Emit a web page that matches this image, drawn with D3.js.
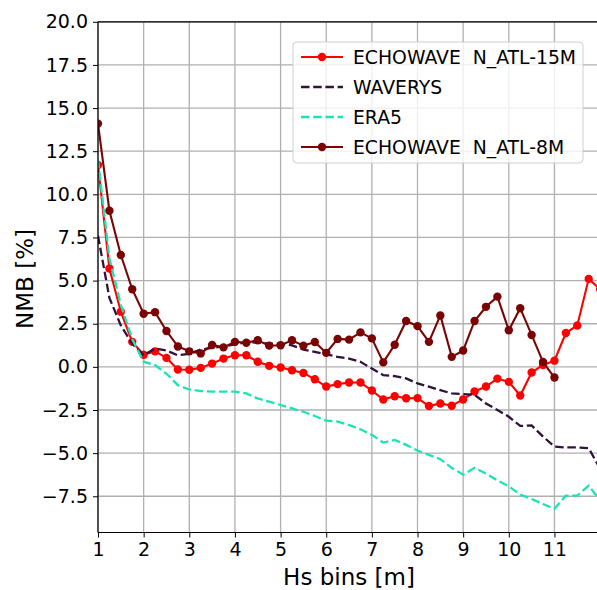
<!DOCTYPE html>
<html>
<head>
<meta charset="utf-8">
<script src="https://cdn.jsdelivr.net/npm/d3@7"></script>
<style>
  body { margin: 0; background: #fff; }
  text { font-family: "DejaVu Sans", sans-serif; fill: #000; }
</style>
</head>
<body>
<div id="chart"></div>
<script>
// Hs bins [m]
const bins = [1, 1.25, 1.5, 1.75, 2, 2.25, 2.5, 2.75, 3, 3.25, 3.5, 3.75, 4, 4.25, 4.5, 4.75,
  5, 5.25, 5.5, 5.75, 6, 6.25, 6.5, 6.75, 7, 7.25, 7.5, 7.75, 8, 8.25, 8.5, 8.75,
  9, 9.25, 9.5, 9.75, 10, 10.25, 10.5, 10.75, 11, 11.25, 11.5, 11.75, 12];

const echo15 = [11.7, 5.7, 3.2, 1.45, 0.7, 0.9, 0.52, -0.15, -0.17, -0.06, 0.19, 0.48, 0.67, 0.67, 0.3, 0.06,
  -0.04, -0.2, -0.35, -0.72, -1.14, -1.0, -0.91, -0.91, -1.37, -1.89, -1.7, -1.82, -1.81, -2.27, -2.12, -2.25,
  -1.89, -1.43, -1.14, -0.68, -0.87, -1.66, -0.33, 0.11, 0.36, 1.96, 2.4, 5.1, 4.5];

const waverys = [7.6, 4.0, 2.4, 1.35, 0.67, 1.06, 0.95, 0.67, 0.75, 1.0, 1.1, 1.19, 1.3, 1.44, 1.4, 1.35,
  1.33, 1.25, 1.0, 0.87, 0.73, 0.58, 0.48, 0.29, -0.1, -0.48, -0.54, -0.67, -0.96, -1.15, -1.35, -1.54,
  -1.58, -1.62, -2.12, -2.5, -2.89, -3.42, -3.4, -4.04, -4.62, -4.67, -4.67, -4.71, -5.9];

const era5 = [12.0, 6.3, 3.6, 1.6, 0.3, 0.1, -0.4, -1.06, -1.31, -1.4, -1.44, -1.44, -1.44, -1.54, -1.83, -2.02,
  -2.21, -2.4, -2.6, -2.85, -3.12, -3.17, -3.37, -3.62, -3.94, -4.39, -4.23, -4.52, -4.85, -5.1, -5.35, -5.85,
  -6.25, -5.85, -6.19, -6.58, -6.92, -7.4, -7.66, -7.95, -8.23, -7.46, -7.46, -6.88, -7.75];

// stops at 11 m
const echo8 = [14.1, 9.05, 6.48, 4.5, 3.08, 3.17, 2.08, 1.18, 0.9, 0.78, 1.27, 1.13, 1.45, 1.4, 1.54, 1.23,
  1.25, 1.54, 1.23, 1.44, 0.81, 1.62, 1.58, 2.0, 1.65, 0.26, 1.28, 2.66, 2.36, 1.45, 2.98, 0.58,
  0.95, 2.66, 3.48, 4.07, 2.12, 3.4, 1.85, 0.28, -0.62];

const xTicks = [1, 2, 3, 4, 5, 6, 7, 8, 9, 10, 11];
const yTicks = [-7.5, -5, -2.5, 0, 2.5, 5, 7.5, 10, 12.5, 15, 17.5, 20];

const series = [
  {name: "ECHOWAVE  N_ATL-15M", values: echo15, color: "#ff0000", dash: null, marker: true},
  {name: "WAVERYS", values: waverys, color: "#30123b", dash: "8.5,3.7", marker: false},
  {name: "ERA5", values: era5, color: "#1ae4b6", dash: "8.5,3.7", marker: false},
  {name: "ECHOWAVE  N_ATL-8M", values: echo8, color: "#7a0403", dash: null, marker: true}
];

const W = 597, H = 590;
const mLeft = 98, mTop = 21.8, mBottom = 532.5, mRight = 600.1;

const svg = d3.select("#chart").append("svg")
    .attr("width", W)
    .attr("height", H);

const x = d3.scaleLinear().domain([1, 12]).range([mLeft, mRight]);
const y = d3.scaleLinear().domain([-9.6, 20]).range([mBottom, mTop]);

svg.append("clipPath").attr("id", "clip")
  .append("rect")
    .attr("x", mLeft).attr("y", mTop)
    .attr("width", mRight - mLeft).attr("height", mBottom - mTop);

// grid
const grid = svg.append("g");
grid.selectAll(".vg").data(xTicks).enter().append("line")
    .attr("x1", d => x(d)).attr("x2", d => x(d))
    .attr("y1", mTop).attr("y2", mBottom)
    .attr("stroke", "#b0b0b0").attr("stroke-width", 1.3);
grid.selectAll(".hg").data(yTicks).enter().append("line")
    .attr("x1", mLeft).attr("x2", W)
    .attr("y1", d => y(d)).attr("y2", d => y(d))
    .attr("stroke", "#b0b0b0").attr("stroke-width", 1.3);

// lines
const plot = svg.append("g").attr("clip-path", "url(#clip)");
series.forEach(s => {
  const pts = s.values.map((v, i) => [bins[i], v]);
  const line = d3.line().x(d => x(d[0])).y(d => y(d[1]));
  plot.append("path")
      .datum(pts)
      .attr("fill", "none")
      .attr("stroke", s.color)
      .attr("stroke-width", s.dash ? 2.3 : 2.1)
      .attr("stroke-dasharray", s.dash)
      .attr("d", line);
  if (s.marker) {
    plot.append("g").selectAll("circle")
      .data(pts).enter().append("circle")
        .attr("cx", d => x(d[0]))
        .attr("cy", d => y(d[1]))
        .attr("r", 4.2)
        .attr("fill", s.color);
  }
});

// axes
const xAxis = svg.append("g")
    .attr("transform", `translate(0,${mBottom})`)
    .call(d3.axisBottom(x).tickValues(xTicks).tickFormat(d3.format("d")).tickSize(5).tickPadding(5));
const yAxis = svg.append("g")
    .attr("transform", `translate(${mLeft},0)`)
    .call(d3.axisLeft(y).tickValues(yTicks).tickFormat(d => d3.format(".1f")(d).replace("-", "\u2212")).tickSize(5).tickPadding(5));
[xAxis, yAxis].forEach(a => {
  a.select(".domain").remove();
  a.selectAll("line").attr("stroke", "#000").attr("stroke-width", 1);
  a.selectAll("text").style("font-size", "19px").attr("fill", "#000");
});

// spines
svg.append("line").attr("x1", mLeft).attr("x2", mLeft).attr("y1", mTop).attr("y2", mBottom)
  .attr("stroke", "#000").attr("stroke-width", 1.2);
svg.append("line").attr("x1", mLeft).attr("x2", W).attr("y1", mBottom).attr("y2", mBottom)
  .attr("stroke", "#000").attr("stroke-width", 1.2);
svg.append("line").attr("x1", mLeft).attr("x2", W).attr("y1", mTop).attr("y2", mTop)
  .attr("stroke", "#000").attr("stroke-width", 1.2);

// axis labels
svg.append("text")
    .attr("x", 349)
    .attr("y", 585)
    .attr("text-anchor", "middle")
    .style("font-size", "23px")
    .text("Hs bins [m]");
svg.append("text")
    .attr("transform", "translate(33,279) rotate(-90)")
    .attr("text-anchor", "middle")
    .style("font-size", "23px")
    .text("NMB [%]");

// legend
const lg = svg.append("g");
lg.append("rect")
    .attr("x", 293).attr("y", 42)
    .attr("width", 290).attr("height", 121)
    .attr("rx", 4)
    .attr("fill", "#fff").attr("fill-opacity", 0.8)
    .attr("stroke", "#d0d0d0").attr("stroke-width", 1);
series.forEach((s, i) => {
  const ly = 57 + i * 30;
  lg.append("line")
      .attr("x1", 301).attr("x2", 343)
      .attr("y1", ly).attr("y2", ly)
      .attr("stroke", s.color).attr("stroke-width", s.dash ? 2.3 : 2.1)
      .attr("stroke-dasharray", s.dash);
  if (s.marker) {
    lg.append("circle").attr("cx", 322).attr("cy", ly).attr("r", 4.2).attr("fill", s.color);
  }
  lg.append("text")
      .attr("x", 353).attr("y", ly)
      .attr("dy", "0.36em")
      .style("font-size", "18.8px")
      .style("white-space", "pre")
      .text(s.name);
});
</script>
</body>
</html>
